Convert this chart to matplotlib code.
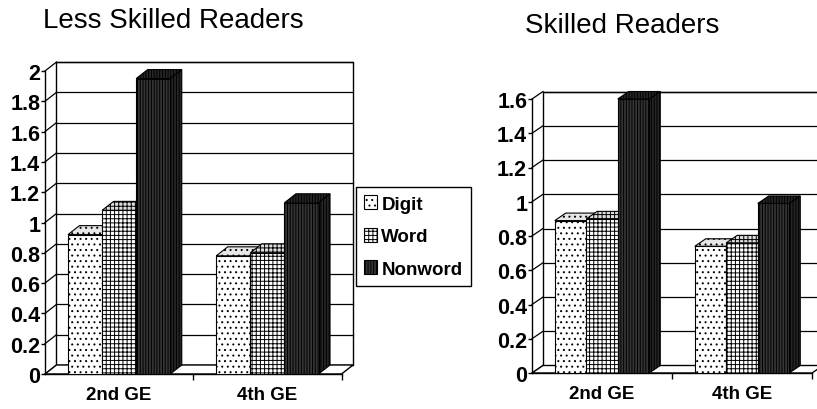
import matplotlib.pyplot as plt
from matplotlib.patches import Polygon, Patch

plt.rcParams['font.family'] = ['Liberation Sans', 'DejaVu Sans']
plt.rcParams['hatch.linewidth'] = 0.7

# data
groups = ['2nd GE', '4th GE']
series = ['Digit', 'Word', 'Nonword']
less_digit = [0.92, 0.78]
less_word = [1.08, 0.80]
less_nonword = [1.95, 1.13]
skilled_digit = [0.89, 0.74]
skilled_word = [0.90, 0.76]
skilled_nonword = [1.60, 0.99]
less_ticks = [0, 0.2, 0.4, 0.6, 0.8, 1, 1.2, 1.4, 1.6, 1.8, 2]
skilled_ticks = [0, 0.2, 0.4, 0.6, 0.8, 1, 1.2, 1.4, 1.6]

# look of each series (face, side/top face, hatch)
faces = ['white', 'white', '#353535']
shades = ['#e6e6e6', '#dcdcdc', '#262626']
hatches = ['...', '++++', '||||||']

W, H = 817, 410
fig = plt.figure(figsize=(W / 100, H / 100), dpi=100)


def add_axes_px(x0, ytop, x1, ybot):
    return fig.add_axes([x0 / W, 1 - ybot / H, (x1 - x0) / W, (ybot - ytop) / H])


def panel(ax, vals, ticks, ytop, dx, dy, w):
    top = ticks[-1]
    ax.set_xlim(-0.5, 1.5 + dx)
    ax.set_ylim(0, ytop)
    ax.patch.set_visible(False)
    for s in ['top', 'right']:
        ax.spines[s].set_visible(False)
    ax.spines['left'].set_bounds(0, top)
    ax.spines['bottom'].set_bounds(-0.5, 1.5)
    ax.spines['left'].set_linewidth(1)
    ax.spines['bottom'].set_linewidth(1)

    # back wall, floor and gridlines
    wall = Polygon([(-0.5 + dx, dy), (1.5 + dx, dy), (1.5 + dx, top + dy), (-0.5 + dx, top + dy)],
                   closed=True, facecolor='white', edgecolor='k', lw=1, clip_on=False, zorder=1)
    ax.add_patch(wall)
    for t in ticks:
        ax.plot([-0.5 + dx, 1.5 + dx], [t + dy, t + dy], color='k', lw=0.9, zorder=1.5, clip_on=False)
        ax.plot([-0.5, -0.5 + dx], [t, t + dy], color='k', lw=0.9, zorder=1.5, clip_on=False)
    floor = Polygon([(-0.5, 0), (1.5, 0), (1.5 + dx, dy), (-0.5 + dx, dy)],
                    closed=True, facecolor='white', edgecolor='k', lw=1, zorder=2, clip_on=False)
    ax.add_patch(floor)

    # 3-d looking columns
    z = 3
    for gi in range(len(groups)):
        for si in range(len(series)):
            v = vals[si][gi]
            xl = gi - 1.5 * w + si * w
            ax.bar(xl, v, width=w, align='edge', facecolor=faces[si], hatch=hatches[si],
                   edgecolor='k', lw=0.8, zorder=z + 0.2)
            topf = Polygon([(xl, v), (xl + w, v), (xl + w + dx, v + dy), (xl + dx, v + dy)],
                           closed=True, facecolor=shades[si], hatch=hatches[si], edgecolor='k',
                           lw=0.8, zorder=z, clip_on=False)
            side = Polygon([(xl + w, 0), (xl + w + dx, dy), (xl + w + dx, v + dy), (xl + w, v)],
                           closed=True, facecolor=shades[si], hatch=hatches[si], edgecolor='k',
                           lw=0.8, zorder=z, clip_on=False)
            ax.add_patch(topf)
            ax.add_patch(side)
            z += 1

    ax.set_yticks(ticks)
    ax.set_yticklabels([f'{t:g}' for t in ticks], fontsize=15.5, fontweight='bold')
    ax.tick_params(axis='y', direction='out', length=3, width=1, pad=0.5)
    ax.set_xticks([0, 1])
    ax.set_xticklabels(groups, fontsize=13.5, fontweight='bold')
    ax.set_xticks([0.5, 1.5], minor=True)
    ax.tick_params(axis='x', which='major', length=0, pad=9)
    ax.tick_params(axis='x', which='minor', direction='out', length=4, width=1)


ax1 = add_axes_px(45, 64, 353, 375)
panel(ax1, [less_digit, less_word, less_nonword], less_ticks,
      (375 - 64) / 151.5, 11.5 / 148.5, 9 / 151.5, 0.23)

ax2 = add_axes_px(532, 93, 823, 374)
panel(ax2, [skilled_digit, skilled_word, skilled_nonword], skilled_ticks,
      (374 - 93) / 171.25, 11 / 140, 7.5 / 171.25, 0.225)

fig.text(43 / W, 1 - 28 / H, 'Less Skilled Readers', fontsize=20, va='baseline', ha='left')
fig.text(525 / W, 1 - 33 / H, 'Skilled Readers', fontsize=20, va='baseline', ha='left')

handles = [Patch(facecolor=faces[i], hatch=hatches[i], edgecolor='k', lw=0.8) for i in range(3)]
leg = fig.legend(handles, series, loc='upper left', bbox_to_anchor=(356 / W, 1 - 188 / H),
                 frameon=True, fancybox=False, edgecolor='k', framealpha=1,
                 prop={'size': 13.5, 'weight': 'bold'}, handlelength=0.65, handleheight=0.75,
                 handletextpad=0.25, labelspacing=0.8, borderpad=0.45, borderaxespad=0)
leg.get_frame().set_linewidth(1)

fig.savefig('out.png', dpi=100)
